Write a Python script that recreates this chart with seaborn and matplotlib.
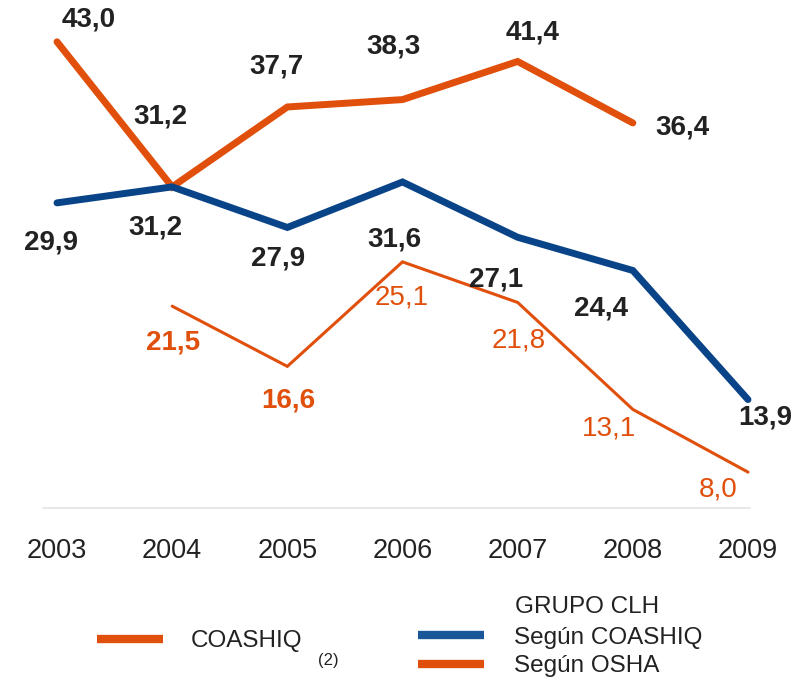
import matplotlib
matplotlib.use("Agg")
import matplotlib.pyplot as plt
from matplotlib.lines import Line2D
import seaborn as sns
import pandas as pd

# Data
years = [2003, 2004, 2005, 2006, 2007, 2008, 2009]
coashiq_years = [2003, 2004, 2005, 2006, 2007, 2008]
coashiq = [43.0, 31.2, 37.7, 38.3, 41.4, 36.4]
clh_years = [2003, 2004, 2005, 2006, 2007, 2008, 2009]
clh_coashiq = [29.9, 31.2, 27.9, 31.6, 27.1, 24.4, 13.9]
osha_years = [2004, 2005, 2006, 2007, 2008, 2009]
clh_osha = [21.5, 16.6, 25.1, 21.8, 13.1, 8.0]

# label offsets (pixels) relative to each point
coashiq_off = [(32, 22), (-12, 70), (-11, 40), (-9, 53), (15, 29), (50, -5)]
clh_off = [(-6, -40), (-17, -41), (-9, -31), (-8, -58), (-22, -42), (-32, -38), (17, -18)]
osha_off = [(1, -36), (1, -34), (-1, -36), (1, -38), (-24, -19), (-30, -17)]
osha_bold = [True, True, False, False, False, False]

ORANGE = "#E0500C"
BLUE = "#0A4488"
TEXT = "#222222"

sns.set_style("white")
plt.rcParams["font.family"] = ["Liberation Sans", "DejaVu Sans"]

fig = plt.figure(figsize=(8.05, 6.82), dpi=100)
ax = fig.add_axes([0, (682 - 509) / 682, 1, 509 / 682])

df_c = pd.DataFrame({"year": coashiq_years, "value": coashiq})
df_b = pd.DataFrame({"year": clh_years, "value": clh_coashiq})
df_o = pd.DataFrame({"year": osha_years, "value": clh_osha})

sns.lineplot(data=df_c, x="year", y="value", ax=ax, color=ORANGE, lw=5,
             solid_capstyle="round", solid_joinstyle="miter")
sns.lineplot(data=df_b, x="year", y="value", ax=ax, color=BLUE, lw=5,
             solid_capstyle="round", solid_joinstyle="miter")
sns.lineplot(data=df_o, x="year", y="value", ax=ax, color=ORANGE, lw=2.2,
             solid_capstyle="round", solid_joinstyle="miter")

ax.set_xlim(2002.505, 2009.495)
ax.set_ylim(5, 46.4)

# faint baseline
ax.axhline(5, xmin=0.055, xmax=0.93, color="#e8e8e8", lw=3, zorder=0)

def fmt(v):
    return f"{v:.1f}".replace(".", ",")

for x, y, (dx, dy) in zip(coashiq_years, coashiq, coashiq_off):
    ax.annotate(fmt(y), (x, y), xytext=(dx, dy), textcoords="offset pixels",
                ha="center", va="center", fontsize=20, fontweight="bold", color=TEXT)
for x, y, (dx, dy) in zip(clh_years, clh_coashiq, clh_off):
    ax.annotate(fmt(y), (x, y), xytext=(dx, dy), textcoords="offset pixels",
                ha="center", va="center", fontsize=20, fontweight="bold", color=TEXT)
for x, y, (dx, dy), b in zip(osha_years, clh_osha, osha_off, osha_bold):
    ax.annotate(fmt(y), (x, y), xytext=(dx, dy), textcoords="offset pixels",
                ha="center", va="center", fontsize=20,
                fontweight="bold" if b else "normal", color=ORANGE)

ax.set_xticks(years)
ax.set_xticklabels([str(y) for y in years], fontsize=19.5, color=TEXT)
ax.tick_params(axis="x", length=0, pad=21)
ax.set_yticks([])
ax.set_xlabel("")
ax.set_ylabel("")
sns.despine(ax=ax, left=True, bottom=True)

# legends
h1 = [Line2D([], [], color=ORANGE, lw=6, solid_capstyle="butt")]
leg1 = fig.legend(h1, ["COASHIQ"], loc="center left",
                  bbox_to_anchor=(97 / 805, 1 - 641 / 682), frameon=False,
                  fontsize=17.5, handlelength=2.7, handletextpad=1.15,
                  borderpad=0, borderaxespad=0)
for t in leg1.get_texts():
    t.set_color(TEXT)
fig.text(318 / 805, 1 - 661 / 682, "(2)", fontsize=12, color=TEXT,
         ha="left", va="center")

h2 = [Line2D([], [], color="#1A5798", lw=6, solid_capstyle="butt"),
      Line2D([], [], color=ORANGE, lw=6, solid_capstyle="butt")]
leg2 = fig.legend(h2, ["Según COASHIQ", "Según OSHA"], loc="center left",
                  bbox_to_anchor=(418 / 805, 1 - 652 / 682), frameon=False,
                  fontsize=17.5, handlelength=2.7, handletextpad=1.25,
                  labelspacing=0.25, borderpad=0, borderaxespad=0)
for t in leg2.get_texts():
    t.set_color(TEXT)
fig.text(515 / 805, 1 - 607 / 682, "GRUPO CLH", fontsize=17.5, color=TEXT,
         ha="left", va="center")

fig.savefig("out.png", dpi=100)
